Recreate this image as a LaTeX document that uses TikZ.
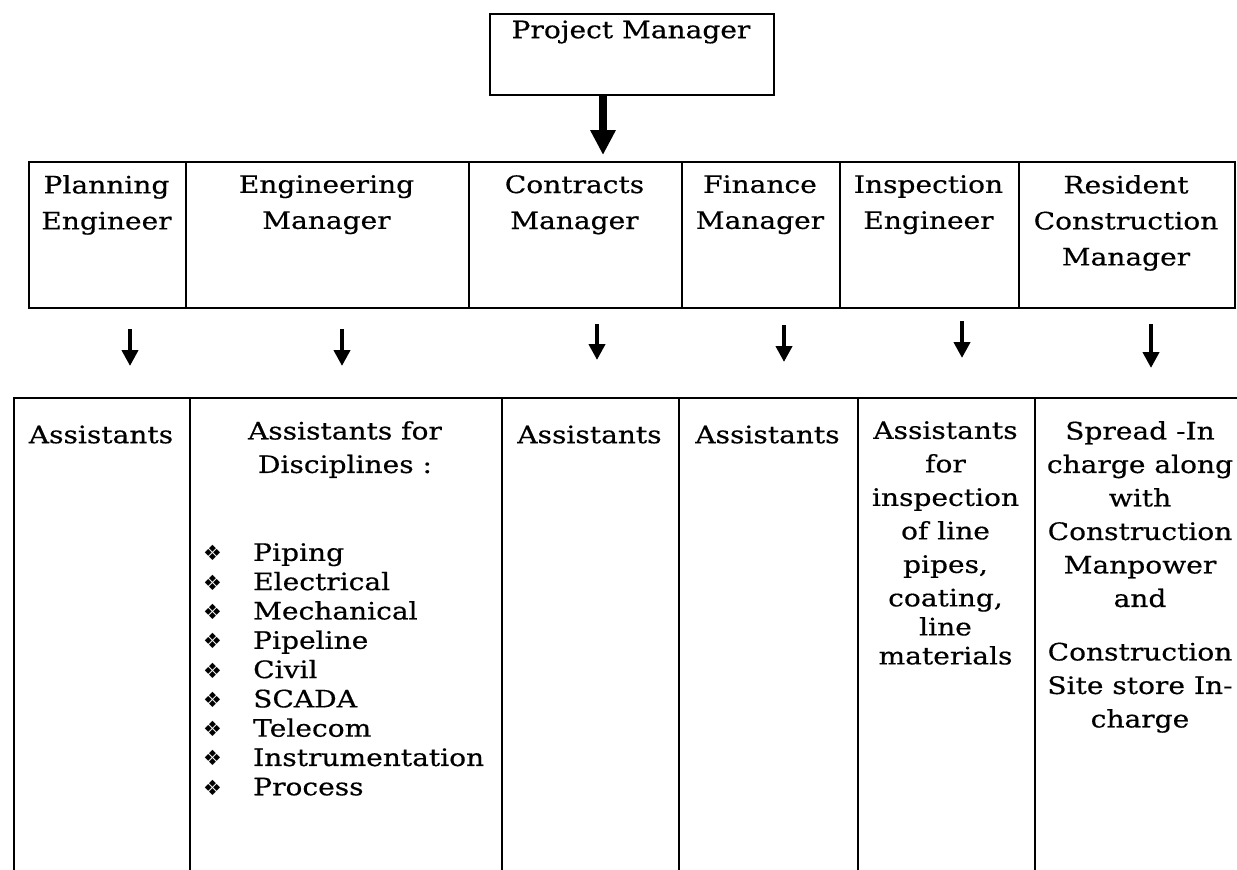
\documentclass[tikz,border=0pt]{standalone}
\usepackage{fontspec}
\setmainfont{DejaVu Serif}[FakeStretch=1.17,FakeBold=0.5]
\newfontfamily\dingfont{DejaVu Sans}
\usetikzlibrary{arrows.meta}
\newcommand\diabul{\makebox[50pt][l]{\dingfont\fontsize{21}{21}\selectfont ❖}}
\begin{document}
\begin{tikzpicture}[x=1pt,y=-1pt,
  cell/.style={draw, line width=2pt, inner sep=0pt, anchor=north west},
  toptxt/.style={align=center, inner sep=0pt, anchor=north, font=\fontsize{24}{36}\selectfont, execute at begin node={\rule{0pt}{22pt}}},
  bottxt/.style={align=center, inner sep=0pt, anchor=north, font=\fontsize{24}{33.5}\selectfont, execute at begin node={\rule{0pt}{22pt}}},
  listtxt/.style={align=left, inner sep=0pt, anchor=north west, font=\fontsize{24}{29.3}\selectfont, execute at begin node={\rule{0pt}{22pt}}},
  smallarrow/.style={line width=4.5pt, -{Triangle[width=16pt,length=16pt]}},
  bigarrow/.style={line width=8pt, -{Triangle[width=24pt,length=25pt]}}]
\useasboundingbox (0,0) rectangle (1237,870);
\clip (0,0) rectangle (1237,870);
% Project manager
\node[cell, minimum width=284pt, minimum height=81pt] (pm) at (489,13) {};
\node[toptxt] (pmt) at (631,16) {Project Manager};
% top row cells
\node[cell, minimum width=157pt, minimum height=146pt] (t1) at (28,161) {};
\node[cell, minimum width=283pt, minimum height=146pt] (t2) at (185,161) {};
\node[cell, minimum width=213pt, minimum height=146pt] (t3) at (468,161) {};
\node[cell, minimum width=158pt, minimum height=146pt] (t4) at (681,161) {};
\node[cell, minimum width=179pt, minimum height=146pt] (t5) at (839,161) {};
\node[cell, minimum width=216pt, minimum height=146pt] (t6) at (1018,161) {};
\node[toptxt] (tt1) at (106.5,175) {Planning\\Engineer};
\node[toptxt] (tt2) at (326.5,175) {Engineering\\Manager};
\node[toptxt] (tt3) at (574.5,175) {Contracts\\Manager};
\node[toptxt] (tt4) at (760,175) {Finance\\Manager};
\node[toptxt] (tt5) at (928.5,175) {Inspection\\Engineer};
\node[toptxt] (tt6) at (1126,175) {Resident\\Construction\\Manager};
% bottom row cells (open at bottom and right)
\node[cell, minimum width=176pt, minimum height=520pt] (b1) at (13,397) {};
\node[cell, minimum width=312pt, minimum height=520pt] (b2) at (189,397) {};
\node[cell, minimum width=177pt, minimum height=520pt] (b3) at (501,397) {};
\node[cell, minimum width=179pt, minimum height=520pt] (b4) at (678,397) {};
\node[cell, minimum width=177pt, minimum height=520pt] (b5) at (857,397) {};
\node[cell, minimum width=240pt, minimum height=520pt] (b6) at (1034,397) {};
\node[bottxt] (bt1) at (101,421) {Assistants};
\node[bottxt] (bt2) at (345,421) {Assistants for\\Disciplines :};
\node[listtxt] (bl2) at (203,543) {\diabul Piping\\\diabul Electrical\\\diabul Mechanical\\\diabul Pipeline\\\diabul Civil\\\diabul SCADA\\\diabul Telecom\\\diabul Instrumentation\\\diabul Process};
\node[bottxt] (bt3) at (589.5,421) {Assistants};
\node[bottxt] (bt4) at (767.5,421) {Assistants};
\node[bottxt] (bt5) at (945.5,421) {Assistants\\for\\inspection\\of line\\pipes,\\coating,\\[-4.5pt]line\\[-4.5pt]materials};
\node[bottxt] (bt6) at (1140,421) {Spread -In\\charge along\\with\\Construction\\Manpower\\and\\[20pt]Construction\\Site store In-\\charge};
% arrows
\coordinate (ax0) at (603,0);
\coordinate (ax1) at (130,0);
\coordinate (ax2) at (342,0);
\coordinate (ax3) at (597,0);
\coordinate (ax4) at (784,0);
\coordinate (ax5) at (962,0);
\coordinate (ax6) at (1151,0);
\draw[bigarrow, shorten >=6pt] (ax0 |- pm.south) -- (ax0 |- t3.north);
\draw[smallarrow, shorten <=20pt, shorten >=31pt] (ax1 |- t1.south) -- (ax1 |- b1.north);
\draw[smallarrow, shorten <=20pt, shorten >=31pt] (ax2 |- t2.south) -- (ax2 |- b2.north);
\draw[smallarrow, shorten <=15pt, shorten >=37pt] (ax3 |- t3.south) -- (ax3 |- b3.north);
\draw[smallarrow, shorten <=16pt, shorten >=35pt] (ax4 |- t4.south) -- (ax4 |- b4.north);
\draw[smallarrow, shorten <=12pt, shorten >=39pt] (ax5 |- t5.south) -- (ax5 |- b5.north);
\draw[smallarrow, shorten <=15pt, shorten >=29pt] (ax6 |- t6.south) -- (ax6 |- b6.north);
\end{tikzpicture}
\end{document}
